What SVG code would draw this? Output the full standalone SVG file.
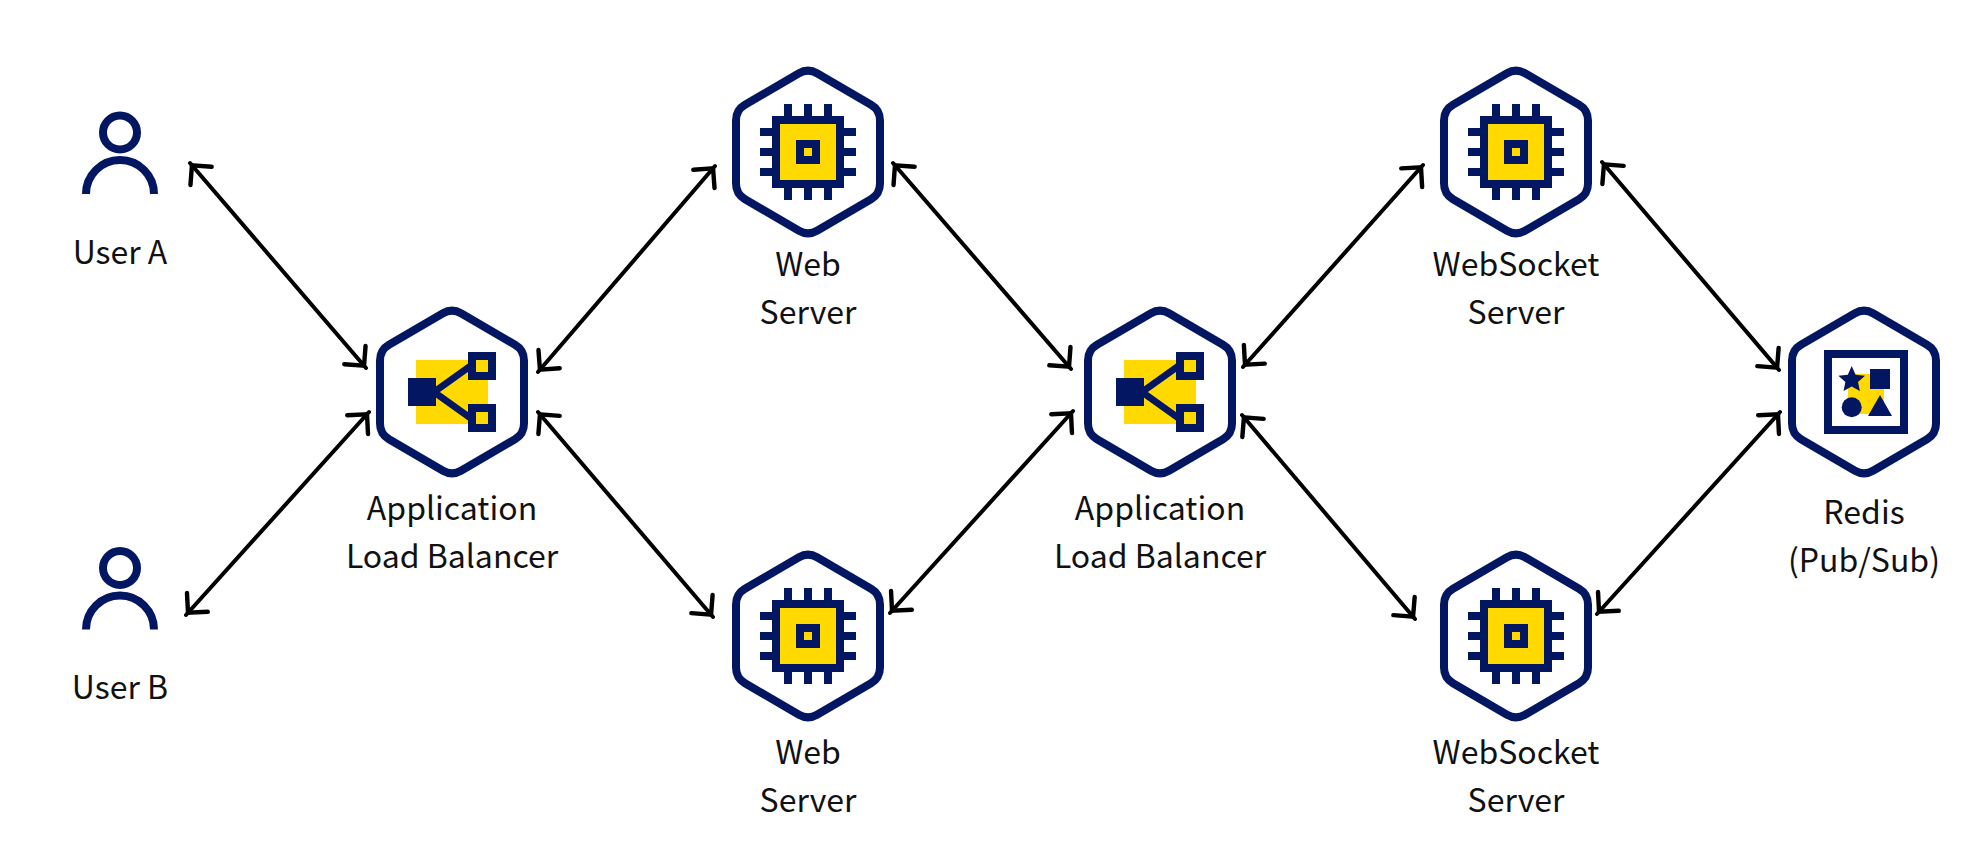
<svg xmlns="http://www.w3.org/2000/svg" width="1980" height="864" viewBox="0 0 1980 864">
  <style>
    .hex { fill: #fff; stroke: #021662; stroke-width: 8; }
    .navy { fill: #021662; }
    .gold { fill: #ffd900; }
    .frame { fill: #ffd900; stroke: #021662; stroke-width: 8; }
    .link { stroke: #021662; stroke-width: 7; fill: none; }
    .outline { fill: none; stroke: #021662; stroke-width: 8; }
    .label { font-family: "Noto Sans CJK JP", "Noto Sans", sans-serif; font-size: 32px; fill: #111; text-anchor: middle; }
    .conn { fill: none; stroke: #000; stroke-width: 4; stroke-linecap: round; marker-start: url(#head); marker-end: url(#head); }
  </style>
  <defs>
    <marker id="head" markerUnits="userSpaceOnUse" markerWidth="40" markerHeight="40" viewBox="-30 -20 40 40" refX="0" refY="0" orient="auto-start-reverse">
      <path d="M-17,-14 L-3,0 L-17,14" fill="none" stroke="#000" stroke-width="4.4" stroke-linecap="round" stroke-linejoin="miter"/>
    </marker>
    <path id="hexagon" class="hex" d="M-9,-78.8 Q0,-84 9,-78.8 L63,-47.2 Q72,-42 72,-31.5 L72,31.5 Q72,42 63,47.2 L9,78.8 Q0,84 -9,78.8 L-63,47.2 Q-72,42 -72,31.5 L-72,-31.5 Q-72,-42 -63,-47.2 Z"/>
    <g id="chip">
      <use href="#hexagon"/>
      <g class="navy">
        <rect x="-24" y="-48" width="8" height="96"/>
        <rect x="-4" y="-48" width="8" height="96"/>
        <rect x="16" y="-48" width="8" height="96"/>
        <rect x="-48" y="-24" width="96" height="8"/>
        <rect x="-48" y="-4" width="96" height="8"/>
        <rect x="-48" y="16" width="96" height="8"/>
      </g>
      <rect class="frame" x="-32" y="-32" width="64" height="64"/>
      <rect class="frame" x="-8" y="-8" width="16" height="16"/>
    </g>
    <g id="balancer">
      <use href="#hexagon"/>
      <rect class="gold" x="-36" y="-32" width="72" height="64"/>
      <path class="link" d="M-18,0 L24,-30 M-18,0 L24,30"/>
      <rect class="navy" x="-44" y="-14" width="28" height="28"/>
      <rect class="frame" x="20" y="-36" width="20" height="20"/>
      <rect class="frame" x="20" y="16" width="20" height="20"/>
    </g>
    <g id="person">
      <circle class="outline" cx="0" cy="0" r="17"/>
      <path class="outline" d="M-34,61.5 A34,34 0 0 1 34,61.5"/>
    </g>
  </defs>

  <rect width="1980" height="864" fill="#fff"/>

  <g id="connectors">
    <line class="conn" x1="190" y1="163" x2="366" y2="368"/>
    <line class="conn" x1="186" y1="615" x2="369" y2="412"/>
    <line class="conn" x1="538" y1="372" x2="715" y2="166"/>
    <line class="conn" x1="538" y1="412" x2="713" y2="617"/>
    <line class="conn" x1="893" y1="163" x2="1071" y2="369"/>
    <line class="conn" x1="890" y1="613" x2="1073" y2="411"/>
    <line class="conn" x1="1243" y1="367" x2="1423" y2="165"/>
    <line class="conn" x1="1242" y1="415" x2="1415" y2="619"/>
    <line class="conn" x1="1602" y1="162" x2="1779" y2="370"/>
    <line class="conn" x1="1597" y1="614" x2="1780" y2="412"/>
  </g>

  <g id="user-a">
    <use href="#person" x="120" y="132.5"/>
    <text class="label" x="120" y="264">User A</text>
  </g>
  <g id="user-b">
    <use href="#person" x="120" y="568"/>
    <text class="label" x="120" y="699">User B</text>
  </g>
  <g id="alb-1">
    <use href="#balancer" x="452" y="392"/>
    <text class="label" x="452" y="520">Application</text>
    <text class="label" x="452" y="568">Load Balancer</text>
  </g>
  <g id="web-1">
    <use href="#chip" x="808" y="152"/>
    <text class="label" x="808" y="276">Web</text>
    <text class="label" x="808" y="324">Server</text>
  </g>
  <g id="web-2">
    <use href="#chip" x="808" y="636"/>
    <text class="label" x="808" y="764">Web</text>
    <text class="label" x="808" y="812">Server</text>
  </g>
  <g id="alb-2">
    <use href="#balancer" x="1160" y="392"/>
    <text class="label" x="1160" y="520">Application</text>
    <text class="label" x="1160" y="568">Load Balancer</text>
  </g>
  <g id="websocket-1">
    <use href="#chip" x="1516" y="152"/>
    <text class="label" x="1516" y="276">WebSocket</text>
    <text class="label" x="1516" y="324">Server</text>
  </g>
  <g id="websocket-2">
    <use href="#chip" x="1516" y="636"/>
    <text class="label" x="1516" y="764">WebSocket</text>
    <text class="label" x="1516" y="812">Server</text>
  </g>
  <g id="redis">
    <use href="#hexagon" x="1864" y="392"/>
    <rect x="1828" y="354" width="76" height="76" fill="none" stroke="#021662" stroke-width="8"/>
    <rect class="gold" x="1848" y="374" width="36" height="40"/>
    <polygon class="navy" points="1851.7,366 1855.6,374.7 1865,375.7 1858,382 1859.9,391 1851.7,386.4 1843.5,391 1845.4,382 1838.4,375.7 1847.8,374.7"/>
    <rect class="navy" x="1870" y="369" width="20" height="20"/>
    <circle class="navy" cx="1851.7" cy="407.3" r="10"/>
    <polygon class="navy" points="1880,395 1892,416 1868,416"/>
    <text class="label" x="1864" y="524">Redis</text>
    <text class="label" x="1864" y="572">(Pub/Sub)</text>
  </g>
</svg>
